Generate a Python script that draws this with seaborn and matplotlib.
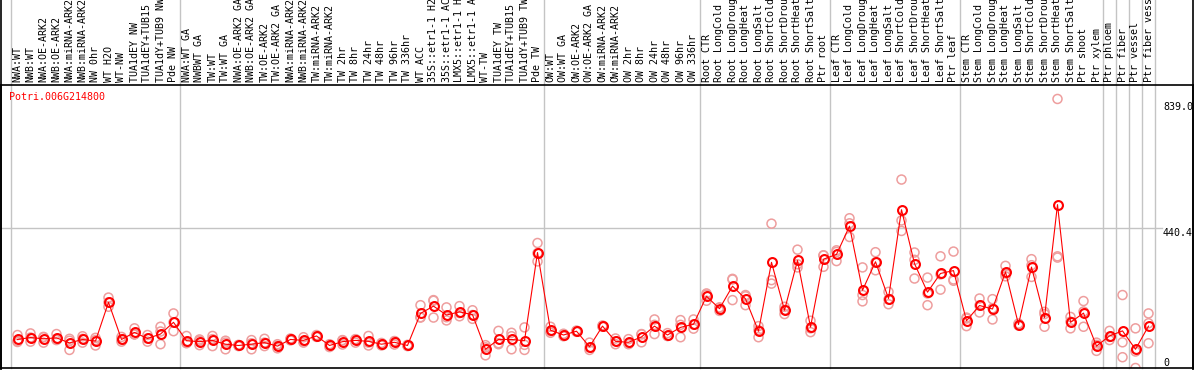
import matplotlib
matplotlib.use('Agg')
import matplotlib.pyplot as plt
from matplotlib.lines import Line2D
import matplotlib.transforms as mtransforms
import seaborn as sns
import pandas as pd

gene = 'Potri.006G214800'

samples = ['NWA:WT', 'NWB:WT', 'NWA:OE-ARK2', 'NWB:OE-ARK2', 'NWA:miRNA-ARK2', 'NWB:miRNA-ARK2',
           'NW 0hr', 'WT H2O', 'WT-NW', 'TUA1dEY NW', 'TUA1dEY+TUB15 NW', 'TUA1dY+TUB9 NW', 'Pde NW',
           'NWA:WT GA', 'NWBWT GA', 'TW:WT', 'TW:WT GA', 'NWA:OE-ARK2 GA', 'NWB:OE-ARK2 GA',
           'TW:OE-ARK2', 'TW:OE-ARK2 GA', 'NWA:miRNA-ARK2', 'NWB:miRNA-ARK2', 'TW:miRNA-ARK2',
           'TW:miRNA-ARK2', 'TW 2hr', 'TW 8hr', 'TW 24hr', 'TW 48hr', 'TW 96hr', 'TW 336hr', 'WT ACC',
           '35S::etr1-1 H2O', '35S::etr1-1 ACC', 'LMX5::etr1-1 H2O', 'LMX5::etr1-1 ACC', 'WT-TW',
           'TUA1dEY TW', 'TUA1dEY+TUB15 TW', 'TUA1dY+TUB9 TW', 'Pde TW',
           'OW:WT', 'OW:WT GA', 'OW:OE-ARK2', 'OW:OE-ARK2 GA', 'OW:miRNA-ARK2', 'OW:miRNA-ARK2',
           'OW 2hr', 'OW 8hr', 'OW 24hr', 'OW 48hr', 'OW 96hr', 'OW 336hr',
           'Root CTR', 'Root LongCold', 'Root LongDrought', 'Root LongHeat', 'Root LongSalt',
           'Root ShortCold', 'Root ShortDrought', 'Root ShortHeat', 'Root ShortSalt', 'Ptr root',
           'Leaf CTR', 'Leaf LongCold', 'Leaf LongDrought', 'Leaf LongHeat', 'Leaf LongSalt',
           'Leaf ShortCold', 'Leaf ShortDrought', 'Leaf ShortHeat', 'Leaf ShortSalt', 'Ptr leaf',
           'Stem CTR', 'Stem LongCold', 'Stem LongDrought', 'Stem LongHeat', 'Stem LongSalt',
           'Stem ShortCold', 'Stem ShortDrought', 'Stem ShortHeat', 'Stem ShortSalt', 'Ptr shoot',
           'Ptr xylem', 'Ptr phloem', 'Ptr fiber', 'Ptr vessel', 'Ptr fiber vessel']

# samples per block, separated by grey lines
group_sizes = [13, 28, 12, 10, 10, 11, 1, 1, 1, 1]

mean_expr = [90, 96, 92, 95, 79, 90, 85, 207, 90, 112, 93, 107, 144,
             86, 83, 87, 75, 71, 75, 80, 69, 90, 87, 101, 71, 83, 87, 84, 75, 81, 71, 172,
             195, 167, 177, 168, 59, 90, 90, 86, 364,
             119, 104, 116, 67, 132, 84, 81, 98, 132, 104, 128, 138,
             226, 187, 258, 218, 116, 333, 182, 339, 129, 343,
             358, 447, 245, 335, 219, 499, 329, 239, 298, 307,
             149, 197, 186, 303, 137, 318, 159, 515, 144, 173, 69,
             101, 117, 59, 132]

rep_a = [104, 109, 98, 107, 86, 100, 88, 222, 98, 125, 104, 130, 172,
         101, 90, 101, 86, 73, 88, 92, 75, 93, 97, 104, 75, 87, 91, 101, 79, 85, 73, 198,
         214, 191, 195, 182, 72, 117, 111, 128, 394,
         130, 108, 118, 80, 134, 93, 91, 107, 153, 110, 151, 153,
         235, 191, 279, 230, 132, 455, 193, 373, 149, 355,
         371, 472, 317, 365, 240, 594, 364, 285, 352, 367,
         159, 219, 217, 322, 140, 343, 177, 848, 161, 211, 80,
         117, 230, 125, 172]

rep_b = [85, 83, 80, 88, 57, 80, 71, 193, 83, 106, 83, 75, 116,
         78, 72, 69, 59, 69, 59, 69, 62, 87, 80, 98, 66, 74, 80, 71, 71, 74, 69, 159,
         159, 150, 163, 155, 40, 75, 59, 57, 336,
         111, 100, 114, 57, 130, 75, 75, 81, 107, 101, 97, 124,
         212, 180, 214, 198, 97, 277, 170, 317, 113, 319,
         337, 413, 210, 308, 201, 465, 282, 198, 247, 279,
         132, 175, 153, 298, 134, 287, 130, 352, 125, 130, 54,
         88, 81, 0, 78]

rep_c = [82, 96, 97, 92, 92, 92, 95, 207, 90, 106, 93, 115, 144,
         80, 86, 91, 80, 71, 78, 80, 70, 90, 84, 101, 72, 88, 90, 80, 75, 84, 71, 160,
         212, 160, 173, 167, 65, 78, 100, 73, 362,
         116, 104, 116, 64, 132, 84, 77, 106, 136, 101, 136, 137,
         231, 190, 281, 226, 119, 266, 183, 327, 125, 355,
         366, 456, 230, 333, 216, 432, 341, 235, 295, 275,
         156, 197, 188, 289, 137, 324, 170, 348, 146, 178, 73,
         98, 34, 52, 141]

axis_marks = [839.0, 440.4, 0]

idx = list(range(len(samples)))
means = pd.DataFrame({'idx': idx, 'value': mean_expr})
reps = pd.DataFrame({'idx': idx * 3, 'value': rep_a + rep_b + rep_c})

W, H = 1194, 370
fig = plt.figure(figsize=(W / 100, H / 100), dpi=100)
ax = fig.add_axes([1 / W, 2 / H, 1192 / W, 283 / H])
plt.rcParams['font.family'] = ['DejaVu Sans Mono']

# columns are 13 px wide, first centre at 17.5 px
ax.set_xlim((1 - 17.5) / 13, (1193 - 17.5) / 13)
ax.set_ylim(0, 892)

light = '#ee9e9e'
sns.scatterplot(data=reps, x='idx', y='value', marker='o', s=42, color=light,
                facecolors='none', edgecolor=light, linewidth=1.1, ax=ax, zorder=2)
sns.lineplot(data=means, x='idx', y='value', color='red', lw=0.8, marker='o',
             markersize=6.4, mfc='none', mec='red', mew=1.5, ax=ax, zorder=3)

# block separators reaching up through the label area
edge = -0.5
for n in group_sizes:
    ax.axvline(edge, ymin=0, ymax=368 / 283, color='#c4c4c4', lw=1, clip_on=False, zorder=1)
    edge += n
ax.axvline(edge, ymin=0, ymax=368 / 283, color='#c4c4c4', lw=1, clip_on=False, zorder=1)

ax.axhline(axis_marks[1], xmax=(1162 - 1) / 1192, color='#c4c4c4', lw=1, zorder=1)

ax.set_xticks(idx)
ax.set_xticklabels(samples, fontsize=7.2, family='DejaVu Sans Mono')
ax.xaxis.tick_top()
ax.tick_params(axis='x', length=0, pad=2, labelrotation=90)
ax.set_yticks([])
ax.set_xlabel('')
ax.set_ylabel('')

trans = mtransforms.blended_transform_factory(ax.transAxes, ax.transData)
for v in axis_marks:
    txt = '0' if v == 0 else f'{v:.1f}'
    ax.text((1163 - 1) / 1192, v, txt, transform=trans, ha='left',
            va='bottom' if v == 0 else 'top', fontsize=7.2, family='DejaVu Sans Mono')

fig.text(9 / W, 1 - 96.5 / H, gene, color='red', fontsize=7.2, family='DejaVu Sans Mono',
         ha='left', va='center')

for s in ax.spines.values():
    s.set_color('black')
    s.set_linewidth(1.2)
fig.add_artist(Line2D([1 / W, 1 / W], [0, 1], color='black', lw=1.2))
fig.add_artist(Line2D([1193 / W, 1193 / W], [0, 1], color='black', lw=1.2))

fig.savefig('out.png', dpi=100)
